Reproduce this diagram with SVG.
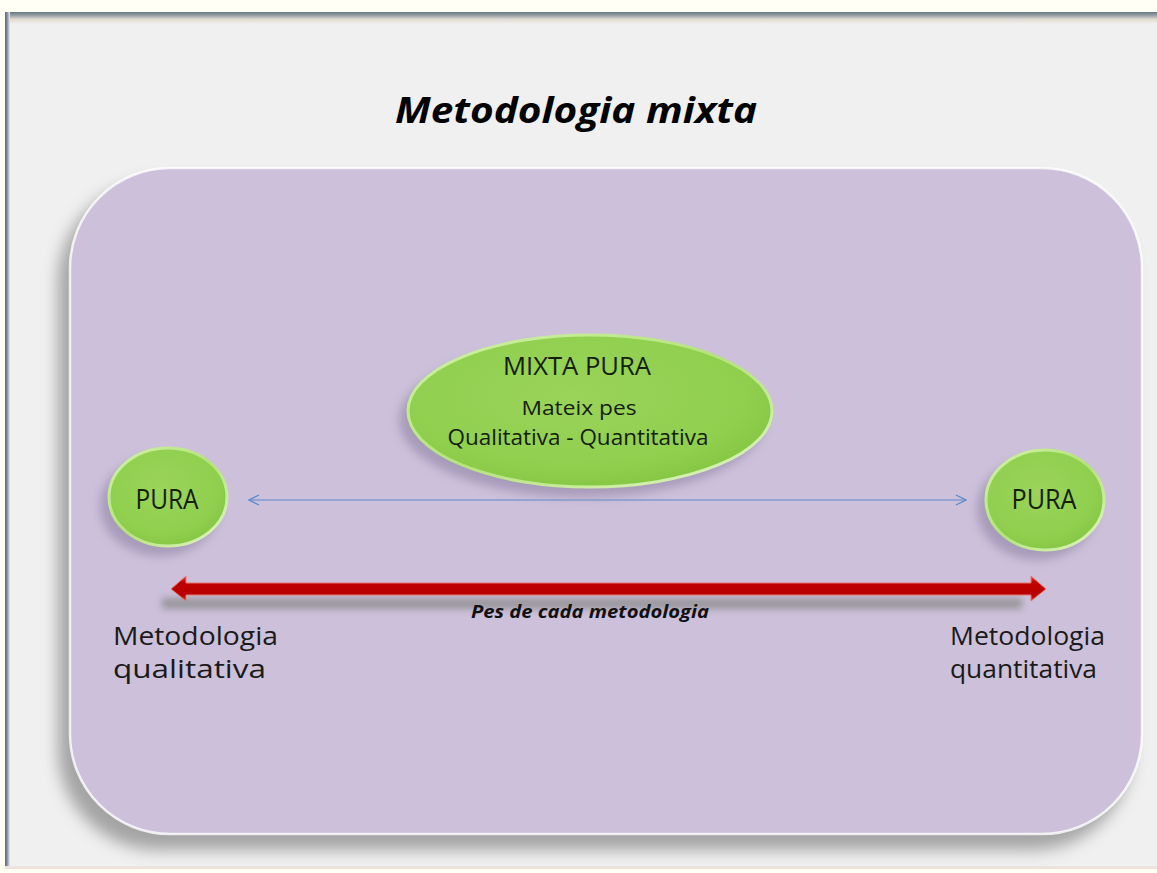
<svg xmlns="http://www.w3.org/2000/svg" width="1157" height="873" viewBox="0 0 1157 873">
  <style>
    .lbl { font-family: "Open Sans", "Noto Sans", "Liberation Sans", sans-serif; fill: #1a1a1a; }
    .node-text { font-family: "Open Sans", "Noto Sans", "Liberation Sans", sans-serif; fill: #152008; }
    .title { font-family: "Open Sans", "Liberation Sans", sans-serif; font-weight: bold; font-style: italic; fill: #000; }
    .pes { font-family: "Open Sans", "Liberation Sans", sans-serif; font-weight: bold; font-style: italic; fill: #111; }
    .blue { stroke: #5a88cc; stroke-width: 1.2; fill: none; }
    .green { fill: url(#greenFill); stroke: url(#greenRim); stroke-width: 3; }
    .gshadow { fill: #9c8fb0; opacity: 0.75; filter: url(#blur5); }
  </style>
  <defs>
    <filter id="blur8" x="-10%" y="-10%" width="120%" height="120%">
      <feGaussianBlur stdDeviation="8"/>
    </filter>
    <filter id="blur5" x="-30%" y="-30%" width="160%" height="160%">
      <feGaussianBlur stdDeviation="5"/>
    </filter>
    <filter id="blur3" x="-10%" y="-200%" width="120%" height="500%">
      <feGaussianBlur stdDeviation="3.5"/>
    </filter>
    <linearGradient id="topEdge" x1="0" y1="0" x2="0" y2="1">
      <stop offset="0" stop-color="#667781"/>
      <stop offset="0.3" stop-color="#9aa2a6"/>
      <stop offset="0.6" stop-color="#e2d9d2"/>
      <stop offset="1" stop-color="#f0f0f0"/>
    </linearGradient>
    <linearGradient id="leftEdge" x1="0" y1="0" x2="1" y2="0">
      <stop offset="0" stop-color="#56657e"/>
      <stop offset="0.5" stop-color="#8e98a8"/>
      <stop offset="1" stop-color="#f0f0f0"/>
    </linearGradient>
    <radialGradient id="greenFill" cx="0.45" cy="0.4" r="0.6">
      <stop offset="0" stop-color="#9ad45a"/>
      <stop offset="0.8" stop-color="#90cf4e"/>
      <stop offset="1" stop-color="#86c744"/>
    </radialGradient>
    <linearGradient id="greenRim" x1="0" y1="0" x2="1" y2="1">
      <stop offset="0" stop-color="#d2f2a8"/>
      <stop offset="0.5" stop-color="#b4e27c"/>
      <stop offset="1" stop-color="#e0f6c4"/>
    </linearGradient>
    <linearGradient id="redBar" x1="0" y1="0" x2="0" y2="1">
      <stop offset="0" stop-color="#e04a40"/>
      <stop offset="0.25" stop-color="#c00000"/>
      <stop offset="0.8" stop-color="#b80000"/>
      <stop offset="1" stop-color="#d84030"/>
    </linearGradient>
    <marker id="openArrow" viewBox="0 0 12 12" refX="11" refY="6" markerWidth="12" markerHeight="12" markerUnits="userSpaceOnUse" orient="auto">
      <path d="M1,1 L11,6 L1,11" fill="none" stroke="#5a88cc" stroke-width="1.2"/>
    </marker>
  </defs>

  <!-- page background and slide frame -->
  <rect x="0" y="0" width="1157" height="873" fill="#fffff6"/>
  <rect x="5" y="12" width="1152" height="856" fill="#f0f0f0"/>
  <rect x="5" y="12" width="1152" height="12" fill="url(#topEdge)"/>
  <rect x="5" y="12" width="5" height="856" fill="url(#leftEdge)"/>
  <rect x="5" y="866" width="1152" height="3" fill="#eee2dc"/>

  <!-- title -->
  <text class="title" x="576" y="123" font-size="36" text-anchor="middle" textLength="362" lengthAdjust="spacingAndGlyphs">Metodologia mixta</text>

  <!-- purple panel -->
  <g id="panel">
    <rect x="58" y="182" width="1074" height="668" rx="100" fill="#8a8a8a" opacity="0.75" filter="url(#blur8)"/>
    <rect x="70" y="168" width="1072" height="666" rx="100" fill="#ccc0da" stroke="#ffffff" stroke-opacity="0.8" stroke-width="2.5"/>
  </g>

  <!-- connectors -->
  <g id="connectors">
    <line class="blue" x1="606" y1="500" x2="249" y2="500" marker-end="url(#openArrow)"/>
    <line class="blue" x1="606" y1="500" x2="966" y2="500" marker-end="url(#openArrow)"/>
    <rect x="162" y="598" width="860" height="11" fill="#8c8c8c" opacity="0.8" filter="url(#blur3)"/>
    <path d="M171,589 L186,576 L186,583 L1031,583 L1031,576 L1046,589 L1031,601 L1031,595 L186,595 L186,601 Z" fill="url(#redBar)" stroke="#e8786c" stroke-width="1"/>
  </g>

  <!-- centre node -->
  <g id="mixta-pura">
    <ellipse class="gshadow" cx="582" cy="420" rx="183" ry="77"/>
    <ellipse class="green" cx="590" cy="411" rx="182" ry="76"/>
    <text class="node-text" x="577" y="375" font-size="25" text-anchor="middle" textLength="148" lengthAdjust="spacingAndGlyphs">MIXTA PURA</text>
    <text class="node-text" x="579" y="415" font-size="20.5" text-anchor="middle" textLength="115" lengthAdjust="spacingAndGlyphs">Mateix pes</text>
    <text class="node-text" x="578" y="445" font-size="21" text-anchor="middle" textLength="261" lengthAdjust="spacingAndGlyphs">Qualitativa - Quantitativa</text>
  </g>

  <!-- left node -->
  <g id="pura-left">
    <ellipse class="gshadow" cx="160" cy="506" rx="60" ry="50"/>
    <ellipse class="green" cx="168" cy="497" rx="59" ry="49"/>
    <text class="node-text" x="167" y="509" font-size="27" text-anchor="middle" textLength="63" lengthAdjust="spacingAndGlyphs">PURA</text>
  </g>

  <!-- right node -->
  <g id="pura-right">
    <ellipse class="gshadow" cx="1037" cy="509" rx="60" ry="51"/>
    <ellipse class="green" cx="1045" cy="500" rx="59" ry="50"/>
    <text class="node-text" x="1044" y="509" font-size="27" text-anchor="middle" textLength="65" lengthAdjust="spacingAndGlyphs">PURA</text>
  </g>

  <!-- scale labels -->
  <text class="pes" x="590" y="618" font-size="18" text-anchor="middle" textLength="238" lengthAdjust="spacingAndGlyphs">Pes de cada metodologia</text>
  <text class="lbl" x="113" y="645" font-size="25" textLength="165" lengthAdjust="spacingAndGlyphs">Metodologia</text>
  <text class="lbl" x="113" y="678" font-size="25" textLength="153" lengthAdjust="spacingAndGlyphs">qualitativa</text>
  <text class="lbl" x="950" y="645" font-size="25" textLength="155" lengthAdjust="spacingAndGlyphs">Metodologia</text>
  <text class="lbl" x="950" y="678" font-size="25" textLength="147" lengthAdjust="spacingAndGlyphs">quantitativa</text>
</svg>
